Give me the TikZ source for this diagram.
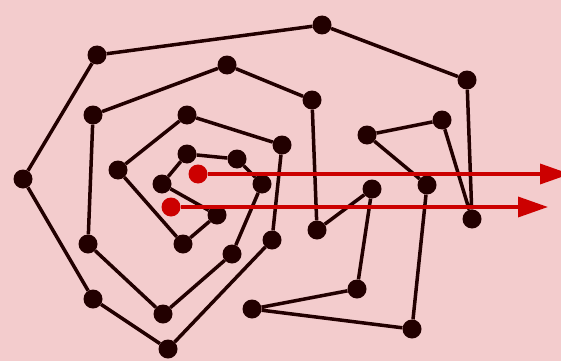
\documentclass[tikz,border=0pt]{standalone}
\definecolor{bgpink}{RGB}{243, 204, 205}
\definecolor{vdark}{RGB}{34, 0, 0}
\definecolor{rayred}{RGB}{204, 0, 0}
\usetikzlibrary{arrows.meta}

\begin{document}
\begin{tikzpicture}[
  x=1pt, y=-1pt,
  vtx/.style={circle, fill=vdark, inner sep=0pt, minimum size=19pt},
  qpt/.style={circle, fill=rayred, inner sep=0pt, minimum size=19pt},
  edge/.style={draw=vdark, line width=3.5pt},
  ray/.style={draw=rayred, line width=3.5pt, -{Triangle[length=30pt, width=20pt]}}
]
  \fill[bgpink] (0,0) rectangle (561,361);
  \useasboundingbox (0,0) rectangle (561,361);

  % polygon vertices
  \node[vtx] (v1) at (322, 25) {};
  \node[vtx] (v2) at (97, 55) {};
  \node[vtx] (v3) at (23, 179) {};
  \node[vtx] (v4) at (93, 299) {};
  \node[vtx] (v5) at (168, 349) {};
  \node[vtx] (v6) at (272, 240) {};
  \node[vtx] (v7) at (282, 145) {};
  \node[vtx] (v8) at (187, 115) {};
  \node[vtx] (v9) at (118, 170) {};
  \node[vtx] (v10) at (183, 244) {};
  \node[vtx] (v11) at (217, 215) {};
  \node[vtx] (v12) at (162, 184) {};
  \node[vtx] (v13) at (187, 154) {};
  \node[vtx] (v14) at (237, 159) {};
  \node[vtx] (v15) at (262, 184) {};
  \node[vtx] (v16) at (232, 254) {};
  \node[vtx] (v17) at (163, 314) {};
  \node[vtx] (v18) at (88, 244) {};
  \node[vtx] (v19) at (93, 115) {};
  \node[vtx] (v20) at (227, 65) {};
  \node[vtx] (v21) at (312, 100) {};
  \node[vtx] (v22) at (317, 230) {};
  \node[vtx] (v23) at (372, 189) {};
  \node[vtx] (v24) at (357, 289) {};
  \node[vtx] (v25) at (252, 309) {};
  \node[vtx] (v26) at (412, 329) {};
  \node[vtx] (v27) at (427, 185) {};
  \node[vtx] (v28) at (367, 135) {};
  \node[vtx] (v29) at (442, 120) {};
  \node[vtx] (v30) at (472, 219) {};
  \node[vtx] (v31) at (467, 80) {};

  \draw[edge] (v1) -- (v2) -- (v3) -- (v4) -- (v5) -- (v6) -- (v7) -- (v8)
    -- (v9) -- (v10) -- (v11) -- (v12) -- (v13) -- (v14) -- (v15) -- (v16)
    -- (v17) -- (v18) -- (v19) -- (v20) -- (v21) -- (v22) -- (v23) -- (v24)
    -- (v25) -- (v26) -- (v27) -- (v28) -- (v29) -- (v30) -- (v31) -- (v1);

  % query points and rays
  \node[qpt] (qa) at (198, 174) {};
  \node[qpt] (qb) at (171, 207) {};
  \coordinate (qaend) at (570, 174);
  \coordinate (qbend) at (548, 207);
  \draw[ray] (qa) -- (qaend);
  \draw[ray] (qb) -- (qbend);
\end{tikzpicture}
\end{document}
